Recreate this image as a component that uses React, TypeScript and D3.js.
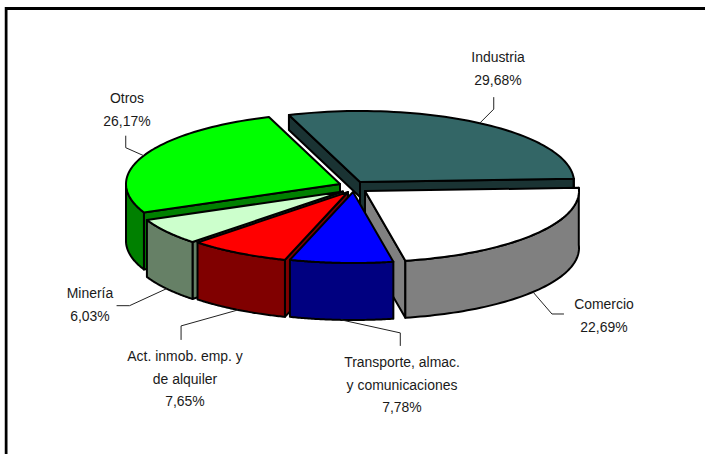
import React from "react";
import * as d3 from "d3";

const categories = ["Industria", "Comercio", "Transporte", "Act", "Mineria", "Otros"];
const shares = [29.68, 22.69, 7.78, 7.65, 6.03, 26.17];
const shareLabels = ["29,68%", "22,69%", "7,78%", "7,65%", "6,03%", "26,17%"];
const labelLines = [
  ["Industria"],
  ["Comercio"],
  ["Transporte, almac.", "y comunicaciones"],
  ["Act. inmob. emp. y", "de alquiler"],
  ["Minería"],
  ["Otros"],
];
const topColors = ["#336666", "#ffffff", "#0000ff", "#ff0000", "#ccffcc", "#00ff00"];
const sideColors = ["#1a3333", "#808080", "#000080", "#800000", "#668066", "#008000"];

// layout of the exploded slices: apex of each slice
const apexX = [360, 365, 353, 348, 343, 340];
const apexY = [182, 191, 192, 192, 191.5, 184];
const labelX = [498, 604, 402, 185, 90, 127];
const labelY = [62, 309, 367, 361, 298, 103];
const elbowDX = [14, 19, 59, -57, -37, -18];
const elbowDY = [-14, 22, 13, 16, 17, -8];
const endDX = [0, 12, 0, 0, -13, 0];
const endDY = [-12, 0, 13, 14, 0, -12];

const RX = 214;
const RY = 71;
const DEPTH = 57;
const BACK_DEPTH = 15;
const STRIP_DEPTH = 28;
const START = (-19.4 * Math.PI) / 180;
const LINE_STEP = 22.7;

const pieGen = d3
  .pie<number>()
  .sort(null)
  .startAngle(START)
  .endAngle(START + Math.PI * 2);

function pt(i: number, a: number, dy = 0): [number, number] {
  return [apexX[i] + RX * Math.sin(a), apexY[i] - RY * Math.cos(a) + dy];
}

const line = d3.line<[number, number]>();

function arcPts(i: number, a0: number, a1: number, dy = 0) {
  const steps = 60;
  return d3.range(steps + 1).map((k) => pt(i, a0 + ((a1 - a0) * k) / steps, dy));
}

function wall(apex: [number, number], p: [number, number], d: number) {
  return (line([apex, p, [p[0], p[1] + d], [apex[0], apex[1] + d]]) as string) + "Z";
}

export default function App() {
  const arcs = pieGen(shares);
  const drawOrder = [0, 5, 4, 3, 1, 2];
  const font = "'Liberation Sans', Arial, sans-serif";
  return (
    <svg
      width={705}
      height={454}
      style={{ position: "absolute", left: 0, top: 0, background: "#fff" }}
    >
      <rect x={4} y={7} width={1} height={447} fill="#c0c0c0" />
      <rect x={5} y={7} width={700} height={3} fill="#000" />
      <rect x={5} y={7} width={2.5} height={447} fill="#000" />
      {drawOrder.map((i) => {
        const a = arcs[i];
        const apex: [number, number] = [apexX[i], apexY[i]];
        const s = pt(i, a.startAngle);
        const e = pt(i, a.endAngle);
        const top = (line([apex, ...arcPts(i, a.startAngle, a.endAngle)]) as string) + "Z";
        // front rim: only the part of the arc below the widest point faces the viewer
        const lo = Math.max(a.startAngle, Math.PI / 2 - 0.05);
        const hi = Math.min(a.endAngle, (Math.PI * 3) / 2);
        const rim =
          hi > lo
            ? (line([...arcPts(i, lo, hi), ...arcPts(i, hi, lo, DEPTH)]) as string) + "Z"
            : null;
        const faces: string[] = [];
        if (i === 0) {
          faces.push(wall(apex, e, STRIP_DEPTH), wall(apex, s, BACK_DEPTH));
        } else if (i === 1) {
          faces.push(wall(apex, e, DEPTH));
        } else if (i !== 2) {
          faces.push(wall(apex, s, DEPTH));
        }
        return (
          <g key={categories[i]} stroke="#000" strokeWidth={2} strokeLinejoin="round">
            {faces.map((f, k) => (
              <path key={k} d={f} fill={sideColors[i]} />
            ))}
            {rim && <path d={rim} fill={sideColors[i]} />}
            <path d={top} fill={topColors[i]} />
          </g>
        );
      })}
      {arcs.map((a, i) => {
        const mid = (a.startAngle + a.endAngle) / 2;
        const facesFront = Math.cos(mid) < 0 && Math.abs(Math.sin(mid)) < 0.95;
        const p0 = pt(i, mid, facesFront ? DEPTH : 0);
        const p1: [number, number] = [p0[0] + elbowDX[i], p0[1] + elbowDY[i]];
        const p2: [number, number] = [p1[0] + endDX[i], p1[1] + endDY[i]];
        return <path key={i} d={line([p0, p1, p2]) as string} fill="none" stroke="#222" strokeWidth={1} />;
      })}
      {labelLines.map((ls, i) => (
        <text
          key={i}
          transform={`translate(${labelX[i]},${labelY[i]}) scale(0.9,1)`}
          textAnchor="middle"
          fontFamily={font}
          fontSize={15.5}
          fill="#1a1a1a"
        >
          {[...ls, shareLabels[i]].map((t, k) => (
            <tspan key={k} x={0} y={k * LINE_STEP}>
              {t}
            </tspan>
          ))}
        </text>
      ))}
    </svg>
  );
}
